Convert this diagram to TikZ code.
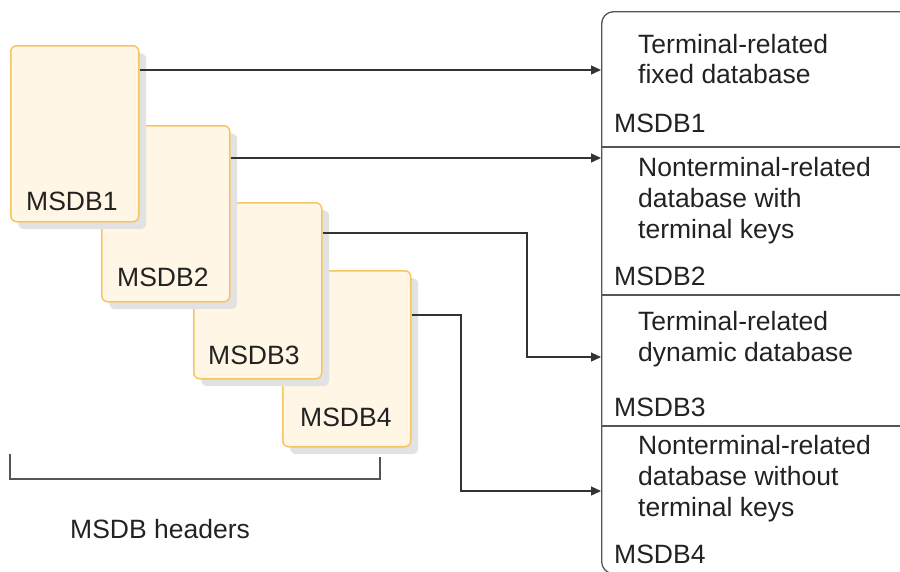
\documentclass[tikz,border=0pt]{standalone}
\usepackage{fontspec}
\setmainfont{Liberation Sans}
\usetikzlibrary{arrows.meta,calc}
\definecolor{boxfill}{HTML}{FFF6E6}
\definecolor{boxline}{HTML}{F6C463}
\definecolor{shade}{HTML}{E2E2E2}
\definecolor{linec}{HTML}{333333}
\definecolor{rbline}{HTML}{555555}
\definecolor{txt}{HTML}{222222}
\begin{document}
\begin{tikzpicture}[x=1pt,y=-1pt,font=\fontsize{26.5}{30}\selectfont,
  msdb/.style={draw=boxline,fill=boxfill,line width=1.5pt,rounded corners=6pt,minimum width=128pt,minimum height=176pt,anchor=north west,inner sep=0pt},
  shadowbox/.style={fill=shade,rounded corners=6pt,minimum width=128pt,minimum height=176pt,anchor=north west,inner sep=0pt},
  arr/.style={draw=linec,line width=1.3pt,-{Triangle[length=10pt,width=9pt]}},
  divl/.style={draw=rbline,line width=1.3pt},
  lbl/.style={anchor=base west,inner sep=0pt,text=txt}]
\useasboundingbox (0,0) rectangle (900,571);
\clip (0,0) rectangle (900,571);
% MSDB boxes (back to front)
\node[shadowbox] (s4) at (290,278) {};
\node[msdb] (b4) at (282,270) {};
\node[shadowbox] (s3) at (201,210) {};
\node[msdb] (b3) at (193,202) {};
\node[shadowbox] (s2) at (109,133) {};
\node[msdb] (b2) at (101,125) {};
\node[shadowbox] (s1) at (18,53) {};
\node[msdb] (b1) at (10,45) {};
\node[lbl] (l1) at (26,210) {MSDB1};
\node[lbl] (l2) at (117,286) {MSDB2};
\node[lbl] (l3) at (208,364) {MSDB3};
\node[lbl] (l4) at (300,426) {MSDB4};
% right box
\node[draw=rbline,line width=1.3pt,rounded corners=12pt,anchor=north west,minimum width=340pt,minimum height=562pt,inner sep=0pt] (rb) at (601,11) {};
\draw[divl] (rb.west |- 0,147) -- (rb.east |- 0,147);
\draw[divl] (rb.west |- 0,295) -- (rb.east |- 0,295);
\draw[divl] (rb.west |- 0,426) -- (rb.east |- 0,426);
\node[lbl] (d1a) at (638,53) {Terminal-related};
\node[lbl] (d1b) at (638,83) {fixed database};
\node[lbl] (m1) at (614,132) {MSDB1};
\node[lbl] (d2a) at (638,176) {Nonterminal-related};
\node[lbl] (d2b) at (638,207) {database with};
\node[lbl] (d2c) at (638,238) {terminal keys};
\node[lbl] (m2) at (614,285) {MSDB2};
\node[lbl] (d3a) at (638,330) {Terminal-related};
\node[lbl] (d3b) at (638,361) {dynamic database};
\node[lbl] (m3) at (614,416) {MSDB3};
\node[lbl] (d4a) at (638,454) {Nonterminal-related};
\node[lbl] (d4b) at (638,485) {database without};
\node[lbl] (d4c) at (638,516) {terminal keys};
\node[lbl] (m4) at (614,563) {MSDB4};
% connectors
\coordinate (k3) at (527,357);
\coordinate (k4) at (461,491);
\draw[arr] ([yshift=-25pt]b1.north east) -- ([yshift=-25pt]b1.north east -| rb.west);
\draw[arr] ([yshift=-33pt]b2.north east) -- ([yshift=-33pt]b2.north east -| rb.west);
\draw[arr] ([yshift=-31pt]b3.north east) -| (k3) -- (k3 -| rb.west);
\draw[arr] ([yshift=-45pt]b4.north east) -| (k4) -- (k4 -| rb.west);
% bracket
\coordinate (h1) at (10,454);
\coordinate (h2) at (380,457);
\draw[draw=rbline,line width=1.3pt] (h1) -- (h1 |- 0,479) -- (h2 |- 0,479) -- (h2);
\node[lbl] (hd) at (70,538) {MSDB headers};
\end{tikzpicture}
\end{document}
